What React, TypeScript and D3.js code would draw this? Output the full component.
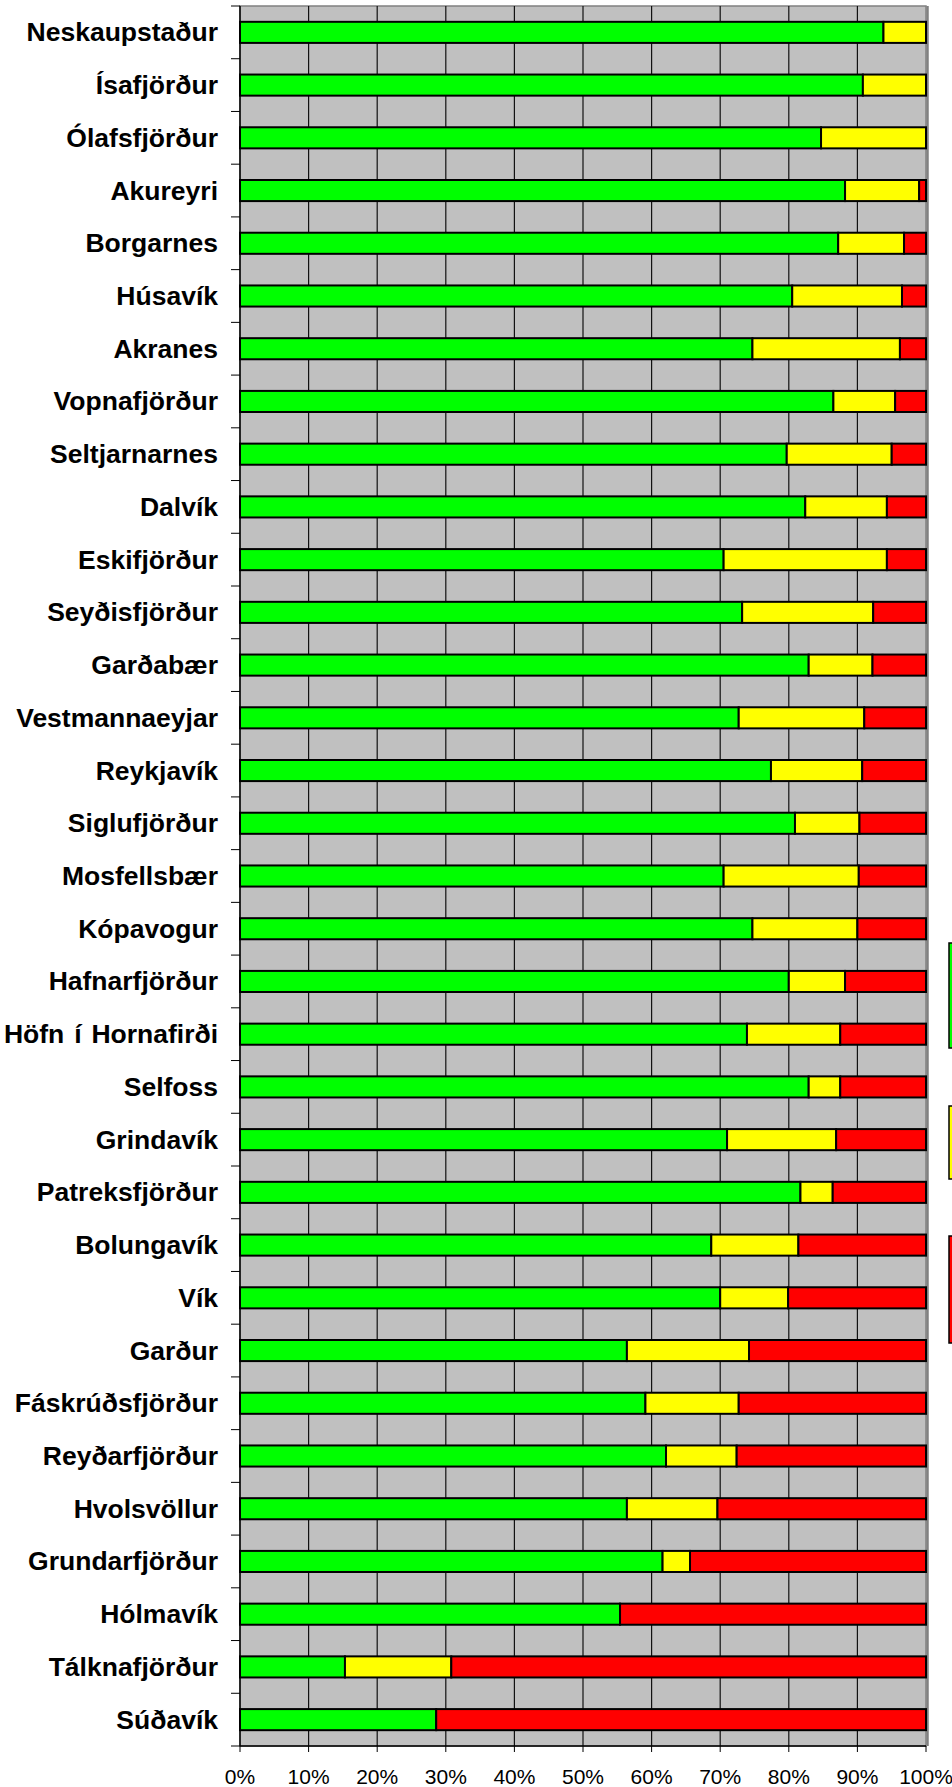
import * as d3 from "d3";

const towns = [
  "Neskaupstaður", "Ísafjörður", "Ólafsfjörður", "Akureyri", "Borgarnes", "Húsavík",
  "Akranes", "Vopnafjörður", "Seltjarnarnes", "Dalvík", "Eskifjörður", "Seyðisfjörður",
  "Garðabær", "Vestmannaeyjar", "Reykjavík", "Siglufjörður", "Mosfellsbær", "Kópavogur",
  "Hafnarfjörður", "Höfn í Hornafirði", "Selfoss", "Grindavík", "Patreksfjörður", "Bolungavík",
  "Vík", "Garður", "Fáskrúðsfjörður", "Reyðarfjörður", "Hvolsvöllur", "Grundarfjörður",
  "Hólmavík", "Tálknafjörður", "Súðavík",
];

// share (%) in each colour band
const green = [
  93.8, 90.8, 84.7, 88.2, 87.2, 80.5, 74.7, 86.5, 79.7, 82.4, 70.5, 73.2,
  82.9, 72.7, 77.4, 80.9, 70.5, 74.7, 80.0, 73.9, 82.9, 71.0, 81.7, 68.7,
  70.0, 56.4, 59.1, 62.1, 56.4, 61.6, 55.4, 15.3, 28.6,
];
const yellow = [
  6.2, 9.2, 15.3, 10.8, 9.6, 16.0, 21.5, 9.0, 15.3, 11.9, 23.8, 19.1,
  9.3, 18.3, 13.3, 9.4, 19.7, 15.3, 8.2, 13.6, 4.6, 15.9, 4.7, 12.7,
  9.9, 17.8, 13.6, 10.3, 13.2, 4.0, 0, 15.5, 0,
];
const red = [
  0, 0, 0, 1.0, 3.2, 3.5, 3.8, 4.5, 5.0, 5.7, 5.7, 7.7,
  7.8, 9.0, 9.3, 9.7, 9.8, 10.0, 11.8, 12.5, 12.5, 13.1, 13.6, 18.6,
  20.1, 25.8, 27.3, 27.6, 30.4, 34.4, 44.6, 69.2, 71.4,
];
const xTicks = [0, 10, 20, 30, 40, 50, 60, 70, 80, 90, 100];
const seriesColors = ["#00ff00", "#ffff00", "#ff0000"];

const W = 952;
const H = 1787;
const left = 240;
const right = 926;
const top = 6;
const bottom = 1746;

export default function App() {
  const x = d3.scaleLinear().domain([0, 100]).range([left, right]);
  const y = d3.scaleBand().domain(towns).range([top, bottom]).paddingInner(0.6).paddingOuter(0.3);
  const yRow = d3.scaleBand().domain(towns).range([top, bottom]).padding(0);

  const rows = towns.map((t, i) => ({ town: t, g: green[i], y: yellow[i], r: red[i] }));
  const stack = d3.stack<any>().keys(["g", "y", "r"])(rows);

  const font = "'Liberation Sans', Arial, sans-serif";

  return (
    <svg width={W} height={H} style={{ position: "absolute", left: 0, top: 0, background: "#fff" }}>
      {/* plot area */}
      <rect x={left} y={top} width={right - left} height={bottom - top} fill="#c0c0c0" stroke="#808080" strokeWidth={1.5} />
      <line x1={right + 1.5} x2={right + 1.5} y1={top} y2={bottom} stroke="#808080" strokeWidth={2.5} />
      {xTicks.slice(1, -1).map((t) => (
        <line key={t} x1={x(t)} x2={x(t)} y1={top} y2={bottom} stroke="#111" strokeWidth={1.2} />
      ))}

      {/* bars */}
      {stack.map((layer, k) => (
        <g key={k}>
          {layer.map((d, i) =>
            d[1] - d[0] > 0 ? (
              <rect
                key={i}
                x={x(d[0])}
                y={y(towns[i])!}
                width={x(d[1]) - x(d[0])}
                height={y.bandwidth()}
                fill={seriesColors[k]}
                stroke="#000"
                strokeWidth={2}
              />
            ) : null
          )}
        </g>
      ))}

      {/* axes */}
      <line x1={left} x2={left} y1={top} y2={bottom} stroke="#000" strokeWidth={1.5} />
      <line x1={left} x2={right} y1={bottom} y2={bottom} stroke="#000" strokeWidth={1.5} />
      {towns.map((t) => (
        <line key={t} x1={left - 9} x2={left} y1={yRow(t)!} y2={yRow(t)!} stroke="#000" strokeWidth={1} />
      ))}
      <line x1={left - 9} x2={left} y1={bottom} y2={bottom} stroke="#000" strokeWidth={1} />
      {xTicks.map((t) => (
        <line key={t} x1={x(t)} x2={x(t)} y1={bottom} y2={bottom + 6} stroke="#000" strokeWidth={1} />
      ))}

      {/* labels */}
      {towns.map((t) => (
        <text
          key={t}
          x={218}
          y={y(t)! + y.bandwidth() / 2}
          textAnchor="end"
          dominantBaseline="central"
          fontFamily={font}
          fontWeight="bold"
          fontSize={26.5}
          wordSpacing={2.5}
          fill="#000"
        >
          {t}
        </text>
      ))}
      {xTicks.map((t) => (
        <text key={t} x={x(t)} y={1784} textAnchor="middle" fontFamily={font} fontSize={21} fill="#000">
          {t}%
        </text>
      ))}

      {/* legend swatches (cut off at the right edge) */}
      <rect x={949} y={943} width={20} height={105} fill={seriesColors[0]} stroke="#000" strokeWidth={1.5} />
      <rect x={949} y={1106} width={20} height={73} fill={seriesColors[1]} stroke="#000" strokeWidth={1.5} />
      <rect x={949} y={1236} width={20} height={107} fill={seriesColors[2]} stroke="#000" strokeWidth={1.5} />
    </svg>
  );
}
